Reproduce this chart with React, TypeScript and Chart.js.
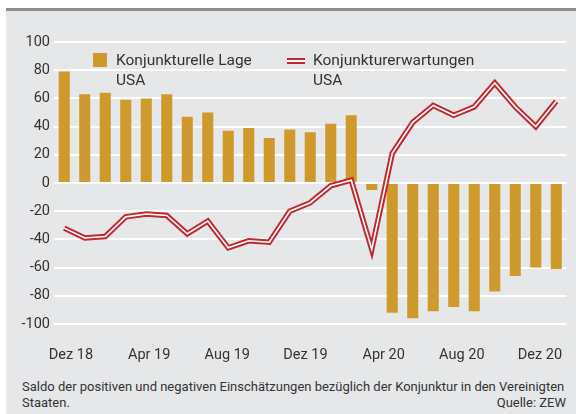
import { useEffect, useRef } from 'react';
import { Chart, registerables } from 'chart.js';

Chart.register(...registerables);

const months = [
  'Dez 18', 'Jan 19', 'Feb 19', 'Mär 19', 'Apr 19', 'Mai 19', 'Jun 19', 'Jul 19', 'Aug 19',
  'Sep 19', 'Okt 19', 'Nov 19', 'Dez 19', 'Jan 20', 'Feb 20', 'Mär 20', 'Apr 20', 'Mai 20',
  'Jun 20', 'Jul 20', 'Aug 20', 'Sep 20', 'Okt 20', 'Nov 20', 'Dez 20',
];
const lage = [79, 63, 64, 59, 60, 63, 47, 50, 37, 39, 32, 38, 36, 42, 48, -5, -92, -96, -91, -88, -91, -77, -66, -60, -61];
const erwartungen = [-32, -39, -38, -24, -22, -23, -36, -27, -46, -41, -42, -20, -14, -2, 2, -47, 21, 43, 55, 48, 54, 71, 54, 40, 58];
const xTickLabels = ['Dez 18', 'Apr 19', 'Aug 19', 'Dez 19', 'Apr 20', 'Aug 20', 'Dez 20'];
const legendLage = ['Konjunkturelle Lage', 'USA'];
const legendErw = ['Konjunkturerwartungen', 'USA'];
const footnote = 'Saldo der positiven und negativen Einschätzungen bezüglich der Konjunktur in den Vereinigten';
const footnote2 = 'Staaten.';
const source = 'Quelle: ZEW';

const GOLD = '#cf9a2c';
const RED = '#c0282e';
const BG = '#e6e7e9';
const TEXT = '#333333';
const FONT = 'Roboto, "Open Sans", sans-serif';

export default function App() {
  const ref = useRef<HTMLCanvasElement>(null);
  useEffect(() => {
    const chart = new Chart(ref.current!, {
      type: 'bar',
      data: {
        labels: months,
        datasets: [
          {
            type: 'line', data: erwartungen, borderColor: '#ffffff', borderWidth: 1.6,
            pointRadius: 0, tension: 0, borderJoinStyle: 'miter', order: 0,
          } as any,
          {
            type: 'line', data: erwartungen, borderColor: RED, borderWidth: 5.5,
            pointRadius: 0, tension: 0, borderJoinStyle: 'miter', order: 1,
          } as any,
          {
            type: 'bar', data: lage, backgroundColor: GOLD, barPercentage: 0.54,
            categoryPercentage: 1, order: 2,
          } as any,
        ],
      },
      options: {
        animation: false,
        responsive: false,
        layout: { padding: { top: 31, right: 9.5, left: 0, bottom: 0 } },
        plugins: { legend: { display: false }, tooltip: { enabled: false } },
        scales: {
          x: { type: 'category', display: false, offset: true, grid: { display: false } },
          x2: {
            type: 'linear', position: 'bottom', min: -0.217, max: 6.339, offset: false,
            afterBuildTicks: (s: any) => { s.ticks = xTickLabels.map((_, i) => ({ value: i })); },
            grid: { display: false, drawTicks: false, offset: false },
            border: { display: false },
            ticks: {
              callback: (v: any) => xTickLabels[Math.round(Number(v))] ?? '',
              font: { family: FONT, size: 14.5 }, color: TEXT, padding: 23,
              maxRotation: 0, autoSkip: false,
            },
            afterFit: (s: any) => { s.height = 48; s.paddingLeft = 0; s.paddingRight = 0; },
          },
          y: {
            min: -100, max: 100,
            ticks: {
              stepSize: 20, font: { family: FONT, size: 14.5 }, color: TEXT, padding: 4,
              callback: (v: any) => String(v),
            },
            grid: { color: '#ffffff', lineWidth: 2, drawTicks: false },
            border: { display: false },
            afterFit: (s: any) => { s.width = 48; },
          },
        },
      } as any,
    });
    return () => chart.destroy();
  }, []);

  const txt: any = { position: 'absolute', fontFamily: FONT, color: TEXT, whiteSpace: 'nowrap' };
  return (
    <div style={{ position: 'absolute', left: 6, top: 8, width: 570, height: 406, background: BG, borderTop: '3px solid #8b8c8e', boxSizing: 'border-box' }}>
      <canvas ref={ref} width={570} height={361} style={{ position: 'absolute', left: 0, top: 0, display: 'block' }} />
      {/* legend */}
      <div style={{ position: 'absolute', left: 87, top: 42, width: 14, height: 14, background: GOLD }} />
      <div style={{ ...txt, left: 110, top: 39, fontSize: 15.5, lineHeight: '20px' }}>
        {legendLage[0]}<br />{legendLage[1]}
      </div>
      <div style={{ position: 'absolute', left: 281, top: 47, width: 18, height: 6, background: RED }}>
        <div style={{ position: 'absolute', left: 0, top: 2, width: 18, height: 2, background: '#fff' }} />
      </div>
      <div style={{ ...txt, left: 307, top: 39, fontSize: 15.5, lineHeight: '20px' }}>
        {legendErw[0]}<br />{legendErw[1]}
      </div>
      {/* footnote */}
      <div style={{ ...txt, left: 16, top: 368, fontSize: 13, lineHeight: '16px' }}>
        {footnote}<br />{footnote2}
      </div>
      <div style={{ ...txt, right: 10, top: 384, fontSize: 13, lineHeight: '16px' }}>{source}</div>
    </div>
  );
}
